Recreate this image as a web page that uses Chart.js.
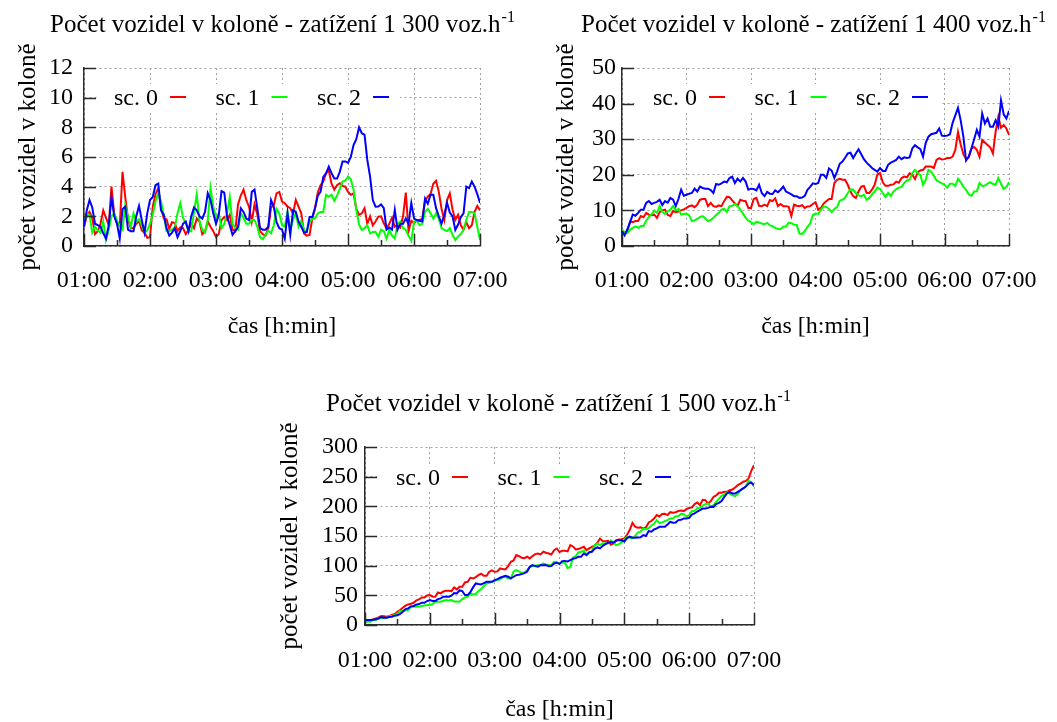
<!DOCTYPE html>
<html>
<head>
<meta charset="utf-8">
<script src="https://cdn.jsdelivr.net/npm/chart.js@4/dist/chart.umd.min.js"></script>
<style>
  html, body { margin: 0; padding: 0; background: #ffffff; }
  body { width: 1057px; height: 722px; position: relative; overflow: hidden; }
  canvas { position: absolute; }
</style>
</head>
<body>
<canvas id="panel1300" width="528" height="361" style="left:0px;top:0px"></canvas>
<canvas id="panel1400" width="529" height="361" style="left:528px;top:0px"></canvas>
<canvas id="panel1500" width="660" height="382" style="left:200px;top:340px"></canvas>
<script>
// Sampling instants in minutes after 01:00, every 2.5 min up to 07:00
const sampleMinutes = Array.from({ length: 145 }, (_, i) => i * 2.5);
const hourLabels = ['01:00', '02:00', '03:00', '04:00', '05:00', '06:00', '07:00'];
const seriesNames = ['sc. 0', 'sc. 1', 'sc. 2'];

// Load 1 300 veh/h
const q1300sc0 = [
  1.3, 2.0, 2.3, 1.9, 0.8, 1.0, 1.5, 2.4, 1.9, 1.4, 4.0, 2.1, 1.5, 1.35, 5.0, 3.3, 1.8, 1.2, 1.2, 1.5,
  1.7, 1.05, 0.9, 0.55, 0.6, 2.65, 3.5, 3.9, 2.6, 1.85, 1.8, 1.15, 1.6, 1.55, 1.0, 1.25, 1.2,
  0.8, 1.1, 1.5, 1.2, 1.85, 1.65, 0.8, 1.0, 1.65, 1.3, 1.0, 0.6, 0.8, 1.75, 1.95, 1.75, 2.1, 1.1, 1.0,
  2.8, 3.4, 3.8, 3.1, 2.65, 1.65, 2.8, 2.15, 1.0, 0.8, 0.7, 1.2, 2.6, 2.75, 3.55, 3.65, 3.0,
  2.88, 2.65, 2.55, 2.2, 3.1, 2.65, 2.2, 0.85, 0.7, 0.75, 1.85, 2.55, 3.6, 4.1, 4.35, 4.9, 5.1, 4.2, 3.8,
  4.1, 4.23, 4.05, 4.0, 3.65, 3.45, 3.55, 2.5, 2.1, 2.2, 2.55, 1.5, 2.0, 1.4, 1.65, 1.98, 2.0,
  1.53, 1.2, 1.5, 1.9, 1.3, 1.4, 1.25, 2.0, 3.6, 1.0, 1.7, 1.55, 1.7, 1.75, 1.85, 3.05, 3.33, 3.5, 4.2,
  4.4, 3.65, 2.5, 1.75, 3.1, 3.55, 2.45, 1.75, 2.1, 1.4, 1.1, 1.6, 1.2, 1.4, 2.3, 2.7, 2.4];
const q1300sc1 = [
  1.4, 2.2, 2.1, 0.9, 1.3, 1.05, 0.9, 1.65, 0.4, 1.1, 2.0, 2.2, 1.7, 1.35, 1.1, 2.75, 2.0, 1.3, 2.2, 1.65,
  1.8, 1.4, 0.9, 1.05, 1.5, 2.1, 3.0, 3.55, 3.0, 2.1, 1.0, 1.0, 1.1, 1.25, 2.2, 2.9, 1.9,
  1.5, 1.0, 1.0, 2.3, 3.5, 1.65, 1.1, 0.9, 1.75, 3.9, 2.65, 1.9, 2.2, 1.2, 1.5, 2.2, 3.3, 1.5, 1.25,
  1.1, 2.2, 1.9, 1.5, 1.5, 1.75, 1.75, 1.3, 0.6, 0.45, 0.75, 1.05, 0.85, 1.4, 2.5, 2.2, 1.4,
  1.3, 2.3, 1.08, 1.75, 2.25, 1.3, 1.7, 1.1, 0.95, 1.6, 1.85, 1.85, 2.2, 2.3, 2.3, 3.45, 3.33, 3.45, 3.05,
  3.4, 3.85, 4.35, 4.4, 4.7, 4.5, 3.8, 2.43, 1.45, 1.08, 1.2, 1.4, 0.85, 0.95, 0.95, 0.63, 1.1,
  1.0, 0.5, 1.08, 0.7, 0.5, 1.5, 1.65, 1.2, 1.08, 0.7, 0.35, 1.65, 1.7, 1.4, 1.5, 2.3, 2.5, 2.2, 1.85,
  2.2, 1.85, 1.2, 1.08, 1.0, 1.2, 0.75, 0.4, 0.65, 0.8, 1.1, 1.75, 2.3, 2.3, 2.2, 1.3, 0.4];
const q1300sc2 = [
  1.3, 2.4, 3.1, 2.6, 1.5, 1.4, 1.3, 0.86, 0.5, 1.4, 3.3, 2.0, 1.5, 0.5, 2.5, 2.65, 1.1, 1.0, 1.0, 2.0,
  2.7, 1.75, 0.9, 2.2, 3.1, 3.3, 4.1, 4.2, 2.4, 2.1, 1.2, 0.7, 0.9, 1.2, 0.6, 1.0, 1.5,
  1.65, 1.0, 2.0, 2.6, 2.4, 2.0, 1.85, 2.3, 3.55, 3.1, 2.2, 1.5, 2.1, 3.7, 3.6, 2.0, 1.4, 0.75, 1.0,
  1.3, 2.55, 2.3, 1.85, 1.75, 3.65, 3.8, 2.55, 1.2, 1.1, 1.1, 1.3, 3.1, 2.65, 1.6, 1.2, 1.1,
  0.5, 2.2, 0.75, 2.4, 2.3, 1.65, 1.3, 0.9, 0.95, 1.95, 1.95, 2.55, 3.4, 3.65, 4.65, 4.9, 5.35, 4.9, 4.55,
  4.55, 5.0, 5.7, 5.7, 5.6, 6.0, 6.8, 7.2, 8.0, 7.6, 7.5, 5.8, 4.7, 3.1, 2.65, 2.66, 2.8,
  2.55, 1.1, 1.25, 1.1, 2.43, 1.1, 1.5, 1.5, 1.85, 1.5, 2.9, 1.85, 1.75, 1.7, 1.65, 3.2, 2.85, 3.45, 3.45,
  2.55, 2.0, 1.5, 2.1, 2.9, 2.25, 2.0, 1.08, 1.45, 1.95, 2.2, 4.0, 3.9, 4.35, 4.0, 3.5, 2.9];

// Load 1 400 veh/h
const q1400sc0 = [
  4.2, 3.7, 4.2, 6.9, 6.7, 7.0, 7.0, 8.4, 8.1, 9.3, 8.8, 8.7, 8.8, 7.9, 9.5, 10.0, 10.2, 8.7, 8.4, 9.8,
  9.5, 9.7, 10.0, 10.3, 10.7, 11.2, 11.4, 10.9, 11.6, 13.0, 13.2, 13.2, 11.2, 12.1, 11.2, 11.0, 11.4, 11.2, 12.6, 13.8,
  13.7, 12.8, 11.9, 11.3, 13.0, 12.7, 12.6, 10.7, 10.7, 13.2, 13.5, 11.3, 11.2, 11.6, 11.2, 12.9, 12.6, 13.4, 11.2, 11.8,
  11.2, 11.2, 11.0, 8.4, 11.6, 11.3, 11.2, 11.5, 10.7, 11.1, 11.2, 11.8,
  12.3, 10.2, 10.7, 11.9, 12.6, 13.2, 13.2, 17.7, 18.6, 18.9, 18.6, 18.6, 17.2, 15.3, 14.0, 13.5, 15.3, 16.7, 16.9, 14.9,
  14.9, 15.8, 17.2, 20.1, 20.5, 17.9, 16.9, 16.9, 17.2, 17.3, 18.1, 17.8, 19.1, 19.5, 19.3, 20.4, 20.0, 18.8, 20.7, 21.2,
  21.4, 22.3, 22.3, 22.3, 21.9, 24.2, 24.7, 24.3, 24.4, 24.7, 24.7, 25.1, 27.0, 32.0, 28.5, 25.8, 24.4, 24.9, 27.4, 27.8,
  27.0, 25.1, 29.8, 29.1, 28.4, 27.7, 26.0, 32.1, 36.3, 33.2, 34.0, 33.0, 31.2];
const q1400sc1 = [
  4.7, 3.8, 3.7, 4.6, 5.1, 5.5, 5.1, 5.6, 5.6, 7.1, 8.2, 8.9, 10.0, 9.3, 11.2, 9.6, 9.0, 9.7, 10.2, 11.2,
  10.0, 10.4, 8.8, 9.0, 9.1, 8.6, 7.0, 7.2, 7.6, 8.1, 8.4, 7.8, 7.0, 7.3, 7.9, 8.7, 9.3, 10.2, 10.5, 9.6,
  11.2, 11.3, 11.8, 11.2, 10.2, 9.1, 7.9, 7.1, 6.7, 6.1, 6.8, 6.6, 6.3, 6.1, 6.5, 5.8, 5.6, 5.1, 4.8, 4.8,
  5.4, 5.5, 6.5, 6.4, 6.0, 5.9, 3.5, 3.4, 4.2, 5.4, 6.3, 8.7,
  9.1, 9.0, 10.2, 11.1, 11.0, 10.4, 9.5, 10.4, 10.9, 12.7, 13.0, 13.6, 14.9, 15.9, 15.8, 14.9, 14.2, 14.0, 14.4, 13.0,
  13.5, 14.5, 15.3, 16.4, 16.0, 14.9, 13.8, 14.9, 14.1, 15.3, 16.0, 16.4, 16.6, 17.7, 18.4, 18.6, 20.5, 21.4, 20.5, 19.9,
  17.2, 18.6, 21.4, 20.9, 19.7, 18.4, 18.0, 17.6, 17.2, 16.4, 17.5, 17.5, 16.9, 18.9, 17.9, 16.7, 15.8, 14.5, 14.1, 15.3,
  15.3, 17.7, 16.9, 17.0, 17.5, 17.9, 17.4, 17.2, 19.1, 17.5, 16.0, 16.6, 17.9];
const q1400sc2 = [
  4.2, 3.0, 4.7, 6.7, 8.8, 8.5, 9.3, 10.2, 10.2, 12.1, 12.6, 11.8, 12.1, 12.4, 13.0, 11.5, 12.6, 12.2, 13.5, 13.0,
  11.2, 13.2, 15.8, 14.1, 14.4, 14.7, 14.9, 16.1, 15.3, 16.7, 16.3, 16.1, 16.1, 15.7, 14.9, 17.4, 17.2, 17.6, 18.1, 17.9,
  19.1, 19.5, 17.7, 18.9, 18.1, 19.1, 18.1, 15.8, 16.1, 16.0, 15.6, 17.2, 14.9, 14.0, 15.2, 14.7, 14.6, 15.6, 15.1, 15.8,
  16.7, 15.3, 14.9, 14.5, 14.0, 14.0, 13.5, 13.6, 14.1, 15.8, 16.6, 17.6,
  17.4, 17.7, 20.0, 20.0, 19.1, 21.8, 21.2, 19.1, 20.9, 23.1, 23.7, 24.8, 26.0, 26.2, 24.7, 26.0, 27.2, 25.8, 24.4, 23.4,
  22.7, 21.9, 21.4, 20.9, 21.9, 21.1, 21.1, 22.8, 23.4, 23.8, 24.2, 25.1, 24.4, 24.9, 24.7, 24.9, 27.4, 28.3, 27.7, 27.2,
  25.1, 29.0, 30.7, 31.4, 31.6, 31.8, 33.0, 31.0, 30.9, 31.0, 31.4, 34.6, 36.7, 38.8, 35.3, 30.7, 24.0, 25.1, 27.4, 30.0,
  32.6, 30.7, 37.2, 34.4, 35.8, 33.5, 33.5, 35.3, 33.5, 40.9, 37.0, 35.8, 38.0];

// Load 1 500 veh/h
const q1500sc0 = [
  8.4, 7.9, 7.3, 9.5, 11.2, 12.9, 15.1, 14.6, 14.0, 15.1, 16.8, 18.5, 22.4, 25.2, 29.1, 32.5, 34.7, 35.9, 37.5, 41.5,
  43.1, 46.5, 46.5, 49.9, 50.4, 48.2, 47.7, 55.0, 53.3, 56.6, 57.8, 57.8, 57.2, 63.4, 60.0, 64.5, 64.5, 71.8, 72.9, 79.6,
  78.5, 80.8, 84.1, 86.4, 83.0, 83.0, 89.7, 92.0, 89.7, 90.3, 95.3, 94.2, 93.6, 99.3, 106.5, 108.8, 117.8, 116.1, 113.3, 112.7,
  115.0, 112.2, 116.1, 119.5, 120.6, 118.9, 123.4, 121.7, 120.6, 118.9, 126.2, 129.0,
  123.0, 125.1, 125.0, 124.0, 134.6, 132.4, 127.3, 127.9, 130.1, 131.8, 126.2, 129.0, 131.8, 133.5, 138.6, 145.8, 141.4, 141.3, 142.0, 135.2,
  137.6, 142.5, 144.2, 144.7, 145.9, 152.0, 160.0, 172.2, 165.6, 163.8, 164.5, 162.7, 164.5, 172.8, 175.2, 179.5, 185.3, 182.9, 187.0, 187.3,
  185.3, 190.1, 189.2, 190.1, 192.0, 193.0, 192.0, 195.2, 197.6, 198.0, 203.8, 206.4, 202.1, 210.9, 210.5, 204.7, 208.8, 215.9, 218.4, 222.7,
  222.8, 224.4, 224.5, 227.2, 228.4, 231.6, 235.7, 238.4, 241.4, 242.9, 247.0, 259.7, 269.2];
const q1500sc1 = [
  5.6, 5.6, 5.6, 8.4, 8.4, 11.2, 11.2, 11.2, 12.3, 14.6, 15.1, 17.4, 18.5, 23.6, 23.5, 25.2, 25.2, 30.8, 30.8, 30.8,
  30.8, 32.0, 33.0, 33.7, 33.6, 35.3, 39.2, 39.3, 39.2, 40.9, 42.1, 41.5, 42.1, 39.8, 39.8, 39.3, 43.7, 46.5, 47.7, 53.3,
  51.6, 52.2, 57.2, 60.6, 65.6, 70.1, 71.2, 72.9, 74.6, 75.7, 76.8, 80.8, 81.3, 78.5, 78.5, 90.3, 92.5, 90.3, 88.0, 88.1,
  92.5, 98.1, 99.2, 100.4, 100.9, 101.0, 103.7, 102.1, 100.9, 101.0, 106.5, 106.0,
  104.0, 104.9, 104.8, 95.9, 98.0, 113.3, 116.1, 122.3, 123.4, 125.1, 118.9, 121.7, 124.5, 134.6, 137.6, 134.6, 137.6, 137.4, 137.6, 142.5,
  138.6, 134.6, 136.4, 139.1, 144.2, 148.1, 147.1, 146.4, 149.9, 155.9, 157.2, 162.7, 161.1, 163.2, 167.3, 170.5, 176.8, 171.6, 172.9, 175.0,
  176.8, 179.5, 179.6, 183.4, 183.5, 187.3, 186.9, 182.9, 185.3, 191.8, 192.4, 196.9, 198.0, 201.4, 203.8, 204.7, 199.3, 201.9, 207.6, 212.6,
  217.6, 219.9, 223.4, 221.6, 219.0, 217.1, 220.7, 227.2, 230.2, 233.9, 243.0, 240.6, 233.0];
const q1500sc2 = [
  8.4, 8.4, 8.4, 9.0, 9.5, 10.7, 13.5, 12.3, 12.3, 13.5, 14.0, 15.7, 16.3, 18.5, 22.4, 26.9, 28.0, 31.4, 32.0, 34.2,
  35.3, 37.6, 37.5, 40.4, 42.1, 40.4, 40.4, 43.7, 44.9, 47.7, 47.7, 47.7, 49.4, 53.8, 53.3, 58.3, 57.2, 50.5, 50.4, 55.5,
  63.4, 70.1, 69.0, 68.4, 70.7, 72.9, 72.9, 72.9, 75.7, 77.4, 79.6, 81.3, 83.0, 81.3, 78.5, 81.3, 84.1, 84.7, 85.8, 87.5,
  89.7, 98.1, 100.9, 99.3, 98.1, 101.0, 100.9, 101.0, 99.2, 99.3, 103.7, 105.0,
  102.6, 107.7, 108.0, 107.1, 109.3, 111.6, 112.7, 115.0, 115.0, 120.6, 117.8, 122.8, 123.4, 128.4, 130.7, 129.0, 133.5, 136.3, 138.6, 139.7,
  138.6, 142.5, 143.1, 142.5, 140.8, 146.4, 148.8, 147.0, 147.1, 147.5, 147.7, 151.4, 149.9, 158.2, 157.2, 161.0, 162.8, 165.5, 165.6, 165.5,
  169.5, 173.9, 172.3, 172.8, 176.8, 177.2, 179.6, 179.5, 180.7, 186.2, 188.0, 191.3, 193.6, 196.3, 196.4, 197.4, 199.3, 199.1, 203.8, 205.9,
  208.8, 215.9, 221.8, 224.4, 221.8, 221.6, 224.5, 227.2, 230.2, 233.3, 238.5, 240.1, 235.7];

const SERIF = "'Liberation Serif', 'Times New Roman', serif";
const seriesColors = ['#ff0000', '#00ff00', '#0000ff'];
const gridColor = '#a0a0a0';
const axisColor = '#2a2a2a';

Chart.defaults.font.family = SERIF;
Chart.defaults.color = '#000000';

// Heading with a raised "-1" exponent
const panelTitlePlugin = {
  id: 'panelTitle',
  afterDraw(chart, args, opts) {
    const ctx = chart.ctx;
    ctx.save();
    ctx.fillStyle = '#000000';
    ctx.textBaseline = 'alphabetic';
    ctx.textAlign = 'left';
    const mainFont = opts.size + 'px ' + SERIF;
    const supFont = opts.supSize + 'px ' + SERIF;
    ctx.font = mainFont;
    const wMain = ctx.measureText(opts.text).width;
    ctx.font = supFont;
    const wSup = ctx.measureText(opts.sup).width;
    const x0 = opts.cx - (wMain + wSup) / 2;
    ctx.font = mainFont;
    ctx.fillText(opts.text, x0, opts.baseline);
    ctx.font = supFont;
    ctx.fillText(opts.sup, x0 + wMain + 1, opts.baseline - opts.rise);
    ctx.restore();
  }
};

// Key inside the plot: label followed by a short line sample, on a white box
const panelKeyPlugin = {
  id: 'panelKey',
  beforeDatasetsDraw(chart, args, opts) {
    const ctx = chart.ctx;
    ctx.save();
    ctx.fillStyle = '#ffffff';
    ctx.fillRect(opts.box[0], opts.box[1], opts.box[2], opts.box[3]);
    ctx.font = '24px ' + SERIF;
    ctx.textAlign = 'right';
    ctx.textBaseline = 'middle';
    chart.data.datasets.forEach((ds, i) => {
      const xr = opts.x0 + i * opts.step;
      ctx.fillStyle = '#000000';
      ctx.fillText(ds.label, xr, opts.y + 2);
      ctx.strokeStyle = ds.borderColor;
      ctx.lineWidth = 2;
      ctx.beginPath();
      ctx.moveTo(xr + 12, opts.y);
      ctx.lineTo(xr + 28, opts.y);
      ctx.stroke();
    });
    ctx.restore();
  }
};

// Tick marks pointing into the plot area (long on labelled ticks, short on half hours)
const innerTicksPlugin = {
  id: 'innerTicks',
  afterDatasetsDraw(chart) {
    const { ctx, chartArea: a, scales } = chart;
    const xs = scales.x, ys = scales.y;
    ctx.save();
    ctx.strokeStyle = axisColor;
    ctx.lineWidth = 1.5;
    ctx.beginPath();
    ys.ticks.forEach(t => {
      const py = Math.round(ys.getPixelForValue(t.value)) + 0.5;
      ctx.moveTo(a.left, py);
      ctx.lineTo(a.left + 12, py);
    });
    xs.ticks.forEach(t => {
      const px = Math.round(xs.getPixelForValue(t.value)) + 0.5;
      const len = t.value % 60 === 0 ? 12 : 6;
      ctx.moveTo(px, a.bottom);
      ctx.lineTo(px, a.bottom - len);
    });
    ctx.stroke();
    ctx.restore();
  }
};

function makePanel(canvasId, series, cfg) {
  const datasets = series.map((vals, i) => ({
    label: seriesNames[i],
    data: vals.map((v, j) => ({ x: sampleMinutes[j], y: v })),
    borderColor: seriesColors[i],
    backgroundColor: seriesColors[i],
    borderWidth: 2,
    pointRadius: 0,
    fill: false,
    tension: 0,
    order: 2 - i
  }));
  return new Chart(document.getElementById(canvasId), {
    type: 'line',
    data: { datasets },
    options: {
      responsive: false,
      animation: false,
      events: [],
      layout: { padding: cfg.padding },
      plugins: {
        legend: { display: false },
        tooltip: { enabled: false },
        title: { display: false },
        panelTitle: cfg.title,
        panelKey: cfg.key
      },
      scales: {
        x: {
          type: 'linear',
          min: 0,
          max: 360,
          ticks: {
            stepSize: 30,
            autoSkip: false,
            maxRotation: 0,
            padding: cfg.xTickPad,
            color: '#000000',
            font: { family: SERIF, size: 24, lineHeight: 1.2 },
            callback: v => (v % 60 === 0 ? hourLabels[v / 60] : '')
          },
          grid: {
            drawTicks: false,
            lineWidth: 1,
            color: c => (c.tick && c.tick.value % 60 === 0 ? gridColor : 'rgba(0,0,0,0)')
          },
          border: { display: true, color: axisColor, width: 1.5, dash: [2, 3] },
          title: {
            display: true,
            text: 'čas [h:min]',
            color: '#000000',
            font: { family: SERIF, size: 24, lineHeight: 1 },
            padding: { top: 0, bottom: cfg.xTitlePad }
          },
          afterFit: s => { s.height = cfg.xHeight; }
        },
        y: {
          min: 0,
          max: cfg.yMax,
          ticks: {
            stepSize: cfg.yStep,
            autoSkip: false,
            padding: cfg.yTickPad,
            color: '#000000',
            font: { family: SERIF, size: 24 }
          },
          grid: { drawTicks: false, lineWidth: 1, color: gridColor },
          border: { display: true, color: axisColor, width: 1.5, dash: [2, 3] },
          title: {
            display: true,
            text: 'počet vozidel v koloně',
            color: '#000000',
            font: { family: SERIF, size: 25, lineHeight: 1 },
            padding: { top: cfg.yTitlePad, bottom: 0 }
          },
          afterFit: s => { s.width = cfg.yWidth; }
        }
      }
    },
    plugins: [panelTitlePlugin, panelKeyPlugin, innerTicksPlugin]
  });
}

makePanel('panel1300', [q1300sc0, q1300sc1, q1300sc2], {
  padding: { left: 0, top: 68, right: 42, bottom: 0 },
  yWidth: 84, xHeight: 115,
  yMax: 12, yStep: 2, yTickPad: 11, yTitlePad: 15.5,
  xTickPad: 20.6, xTitlePad: 22,
  title: { text: 'Počet vozidel v koloně - zatížení 1 300 voz.h', sup: '-1', size: 25, supSize: 16, rise: 10, cx: 282, baseline: 32 },
  key: { x0: 158, step: 101.5, y: 97, box: [98, 84, 302, 27] }
});

makePanel('panel1400', [q1400sc0, q1400sc1, q1400sc2], {
  padding: { left: 0, top: 68, right: 33, bottom: 0 },
  yWidth: 94, xHeight: 115,
  yMax: 50, yStep: 10, yTickPad: 6, yTitlePad: 25.5,
  xTickPad: 20.6, xTitlePad: 22,
  title: { text: 'Počet vozidel v koloně - zatížení 1 400 voz.h', sup: '-1', size: 25, supSize: 16, rise: 10, cx: 285, baseline: 32 },
  key: { x0: 169, step: 101.5, y: 97, box: [108, 84, 304, 27] }
});

makePanel('panel1500', [q1500sc0, q1500sc1, q1500sc2], {
  padding: { left: 60, top: 107, right: 106, bottom: 0 },
  yWidth: 105, xHeight: 97,
  yMax: 300, yStep: 50, yTickPad: 7, yTitlePad: 17.5,
  xTickPad: 21.6, xTitlePad: 0,
  title: { text: 'Počet vozidel v koloně - zatížení 1 500 voz.h', sup: '-1', size: 25, supSize: 16, rise: 10, cx: 358, baseline: 71 },
  key: { x0: 240, step: 101.5, y: 137, box: [180, 124, 303, 27] }
});
</script>
</body>
</html>
